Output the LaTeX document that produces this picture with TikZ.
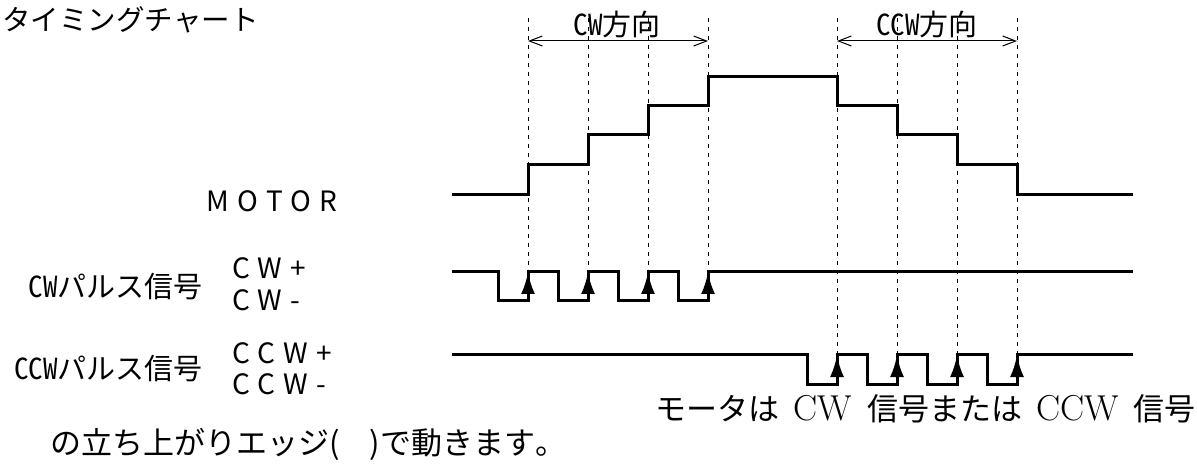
\documentclass[tikz,border=0pt]{standalone}
\usepackage{fontspec}
\usetikzlibrary{arrows.meta}
\newfontfamily\jp[Kerning=Off]{Noto Sans CJK JP}
\newfontfamily\jphw[RawFeature=+hwid]{Noto Sans CJK JP}
\newfontfamily\jpsp[WordSpace=1.25]{Noto Sans CJK JP}

\tikzset{
  sig/.style={line width=3pt},
  edgearrow/.style={line width=3pt,-{Latex[length=22pt,width=14pt]}},
  guide/.style={line width=0.8pt,dash pattern=on 4pt off 5pt},
  dimline/.style={line width=1pt,{Straight Barb[length=13pt,width=10pt]}-{Straight Barb[length=13pt,width=10pt]}},
  lbl/.style={font=\jp\fontsize{28.5}{32}\selectfont,inner sep=0pt},
  hwlbl/.style={font=\jphw\fontsize{29}{32}\selectfont,inner sep=0pt},
  splbl/.style={font=\jpsp\fontsize{28}{32}\selectfont,inner sep=0pt},
}

\begin{document}
\begin{tikzpicture}[x=1pt,y=-1pt]
    \useasboundingbox (0,0) rectangle (1197,470);

    % 标题
    \node[lbl,anchor=west] (title) at (2,20) {タイミングチャート};

    % 方向标注
    \coordinate (cwL) at (528,41);
    \coordinate (cwR) at (708,41);
    \coordinate (ccwL) at (837,41);
    \coordinate (ccwR) at (1017,41);
    \draw[dimline] (cwL) -- (cwR);
    \draw[dimline] (ccwL) -- (ccwR);
    \node[hwlbl] (cwdir) at (617,24) {CW方向};
    \node[hwlbl] (ccwdir) at (927,24) {CCW方向};

    % 虚线
    \foreach \x in {528,588,648,708}
        \draw[guide] (\x,18) -- (\x,272);
    \foreach \x in {837,897,957,1017}
        \draw[guide] (\x,18) -- (\x,355);

    % MOTOR
    \draw[sig] (452,195) -- (528,195) -- (528,165) -- (588,165) -- (588,135) -- (648,135)
        -- (648,106) -- (708,106) -- (708,77) -- (837,77) -- (837,106) -- (897,106)
        -- (897,135) -- (957,135) -- (957,165) -- (1017,165) -- (1017,195) -- (1133,195);

    % CW 脉冲
    \draw[sig] (452,272) foreach \x in {528,588,648,708} {
        -- (\x-30,272) -- (\x-30,301) -- (\x,301) -- (\x,272) } -- (1133,272);
    \foreach \x in {528,588,648,708}
        \draw[edgearrow] (\x,301) -- (\x,272);

    % CCW 脉冲
    \draw[sig] (452,355) foreach \x in {837,897,957,1017} {
        -- (\x-30,355) -- (\x-30,384) -- (\x,384) -- (\x,355) } -- (1133,355);
    \foreach \x in {837,897,957,1017}
        \draw[edgearrow] (\x,384) -- (\x,355);

    % 左侧文字
    \node[splbl] (motor) at (272,201) {M O T O R};
    \node[splbl,anchor=west] (cwp) at (232,268) {C W +};
    \node[splbl,anchor=west] (cwm) at (232,300) {C W -};
    \node[hwlbl,anchor=east] (cwsig) at (203,287) {CWパルス信号};
    \node[splbl,anchor=west] (ccwp) at (232,353) {C C W +};
    \node[splbl,anchor=west] (ccwm) at (232,384) {C C W -};
    \node[hwlbl,anchor=east] (ccwsig) at (203,369) {CCWパルス信号};

    % 说明
    \node[lbl,font=\jp\fontsize{31}{32}\selectfont,anchor=east] (note1) at (1196,409)
        {モータは\hspace{14pt}{\rmfamily\fontsize{36}{36}\selectfont CW}\hspace{15pt}信号または\hspace{14pt}{\rmfamily\fontsize{36}{36}\selectfont CCW}\hspace{15pt}信号};
    \node[lbl,font=\jp\fontsize{31}{32}\selectfont,anchor=west] (note2) at (50,444) {の立ち上がりエッジ(\hspace{30pt})で動きます。};

\end{tikzpicture}
\end{document}
